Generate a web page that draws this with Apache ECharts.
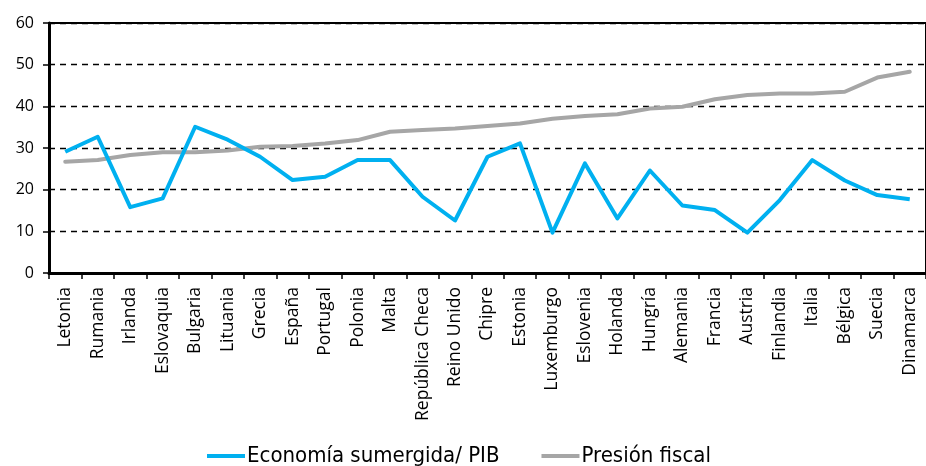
<!DOCTYPE html>
<html>
<head>
<meta charset="utf-8">
<script src="https://cdn.jsdelivr.net/npm/echarts@6/dist/echarts.min.js"></script>
<style>
  html, body { margin: 0; padding: 0; background: #fff; }
  #chart { width: 926px; height: 466px; }
</style>
</head>
<body>
<div id="chart"></div>
<script>
// Países ordenados por presión fiscal
const countries = ['Letonia', 'Rumania', 'Irlanda', 'Eslovaquia', 'Bulgaria', 'Lituania', 'Grecia', 'España',
  'Portugal', 'Polonia', 'Malta', 'República Checa', 'Reino Unido', 'Chipre', 'Estonia', 'Luxemburgo',
  'Eslovenia', 'Holanda', 'Hungría', 'Alemania', 'Francia', 'Austria', 'Finlandia', 'Italia', 'Bélgica',
  'Suecia', 'Dinamarca'];

// Economía sumergida en % del PIB
const economiaSumergida = [29.1, 32.7, 15.8, 17.9, 35.1, 32.0, 27.9, 22.3, 23.1, 27.1, 27.1, 18.3, 12.6,
  27.9, 31.1, 9.7, 26.3, 13.1, 24.6, 16.2, 15.1, 9.7, 17.5, 27.1, 22.2, 18.7, 17.7];

// Presión fiscal en % del PIB
const presionFiscal = [26.7, 27.1, 28.3, 29.0, 29.0, 29.4, 30.3, 30.5, 31.1, 31.9, 33.9, 34.3, 34.7,
  35.3, 35.9, 37.0, 37.7, 38.1, 39.5, 39.9, 41.7, 42.7, 43.1, 43.1, 43.5, 46.9, 48.3];

const yTicks = { min: 0, max: 60, interval: 10 };

const font = "'Open Sans', 'Noto Sans', sans-serif";
const narrowFont = "'Liberation Sans Narrow', 'DejaVu Sans Condensed', 'Open Sans', sans-serif";

const chart = echarts.init(document.getElementById('chart'), null, { renderer: 'canvas' });

chart.setOption({
  animation: false,
  backgroundColor: '#ffffff',
  grid: {
    left: 49, top: 23, width: 886, height: 250,
    show: true, borderColor: '#000', borderWidth: 2, backgroundColor: 'transparent'
  },
  legend: {
    top: 440,
    left: 202,
    itemGap: 42,
    itemWidth: 38,
    itemHeight: 4,
    icon: 'rect',
    textStyle: { fontFamily: narrowFont, fontSize: 22, color: '#000', padding: [0, 0, 0, -3] },
    data: ['Economía sumergida/ PIB', 'Presión fiscal']
  },
  xAxis: {
    type: 'category',
    data: countries,
    boundaryGap: true,
    axisLine: { show: true, lineStyle: { color: '#000', width: 3 } },
    axisTick: { show: true, length: 6, lineStyle: { color: '#000', width: 1.5 } },
    axisLabel: {
      rotate: 90, interval: 0, margin: 14,
      fontFamily: font, fontSize: 17.5, color: '#000'
    },
    splitLine: { show: false }
  },
  yAxis: {
    type: 'value',
    min: yTicks.min, max: yTicks.max, interval: yTicks.interval,
    axisLine: { show: true, lineStyle: { color: '#000', width: 3 } },
    axisTick: { show: true, length: 6, lineStyle: { color: '#000', width: 1.5 } },
    axisLabel: { fontFamily: font, fontSize: 16, color: '#000', margin: 15 },
    splitLine: { show: true, lineStyle: { color: '#000', width: 1.3, type: [6, 5] } }
  },
  series: [
    {
      name: 'Economía sumergida/ PIB',
      type: 'line',
      data: economiaSumergida,
      symbol: 'none',
      color: '#00B0F0',
      lineStyle: { width: 4, color: '#00B0F0', join: 'round' },
      z: 3
    },
    {
      name: 'Presión fiscal',
      type: 'line',
      data: presionFiscal,
      symbol: 'none',
      color: '#A6A6A6',
      lineStyle: { width: 4, color: '#A6A6A6', cap: 'round', join: 'round' },
      z: 2
    }
  ]
});
</script>
</body>
</html>
